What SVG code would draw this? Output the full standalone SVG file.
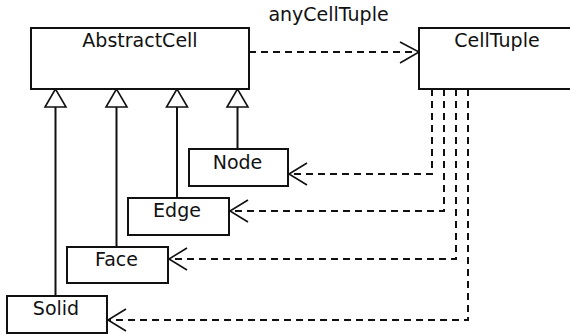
<svg xmlns="http://www.w3.org/2000/svg" width="570" height="335" viewBox="0 0 570 335">
  <style>
    .box { fill: #ffffff; stroke: #111111; stroke-width: 2; }
    .lbl { font-family: "DejaVu Sans", Verdana, sans-serif; font-size: 19px; fill: #111111; text-anchor: middle; }
    .solid { fill: none; stroke: #111111; stroke-width: 2; }
    .dash { fill: none; stroke: #111111; stroke-width: 2; stroke-dasharray: 7 5; }
    .head { fill: none; stroke: #111111; stroke-width: 1.6; }
    .tri { fill: #ffffff; stroke: #111111; stroke-width: 1.6; }
  </style>
  <rect width="570" height="335" fill="#ffffff"/>

  <g id="connectors">
    <!-- generalisation lines to AbstractCell -->
    <line class="solid" x1="55.5" y1="107" x2="55.5" y2="296"/>
    <line class="solid" x1="116.5" y1="107" x2="116.5" y2="247"/>
    <line class="solid" x1="177" y1="107" x2="177" y2="198"/>
    <line class="solid" x1="237.5" y1="107" x2="237.5" y2="149"/>
    <polygon class="tri" points="55.5,89 45,107 66,107"/>
    <polygon class="tri" points="116.5,89 106,107 127,107"/>
    <polygon class="tri" points="177,89 166.5,107 187.5,107"/>
    <polygon class="tri" points="237.5,89 227,107 248,107"/>

    <!-- AbstractCell to CellTuple -->
    <line class="dash" x1="249" y1="52" x2="418" y2="52"/>
    <polyline class="head" points="400,42 419,52 400,63"/>

    <!-- CellTuple to the concrete cells -->
    <polyline class="dash" points="432,89 432,174 289,174"/>
    <polyline class="head" points="307,163 289,174 307,185"/>
    <polyline class="dash" points="444,89 444,211 230,211"/>
    <polyline class="head" points="248,200 230,211 248,222"/>
    <polyline class="dash" points="456,89 456,259 169,259"/>
    <polyline class="head" points="187,248 169,259 187,270"/>
    <polyline class="dash" points="468,89 468,320 108,320"/>
    <polyline class="head" points="126,309 108,320 126,331"/>
  </g>

  <text class="lbl" x="328.5" y="21">anyCellTuple</text>

  <g id="AbstractCell">
    <rect class="box" x="31" y="28" width="218" height="61"/>
    <text class="lbl" x="140" y="46.5">AbstractCell</text>
  </g>
  <g id="CellTuple">
    <rect class="box" x="419" y="28" width="156" height="61"/>
    <text class="lbl" x="497" y="46.5">CellTuple</text>
  </g>
  <g id="Node">
    <rect class="box" x="189" y="149" width="99" height="37"/>
    <text class="lbl" x="237.5" y="168.5">Node</text>
  </g>
  <g id="Edge">
    <rect class="box" x="128" y="198" width="101" height="37"/>
    <text class="lbl" x="177" y="217">Edge</text>
  </g>
  <g id="Face">
    <rect class="box" x="67" y="247" width="101" height="36"/>
    <text class="lbl" x="116.5" y="266">Face</text>
  </g>
  <g id="Solid">
    <rect class="box" x="7" y="296" width="100" height="37"/>
    <text class="lbl" x="56" y="314.5">Solid</text>
  </g>
</svg>
